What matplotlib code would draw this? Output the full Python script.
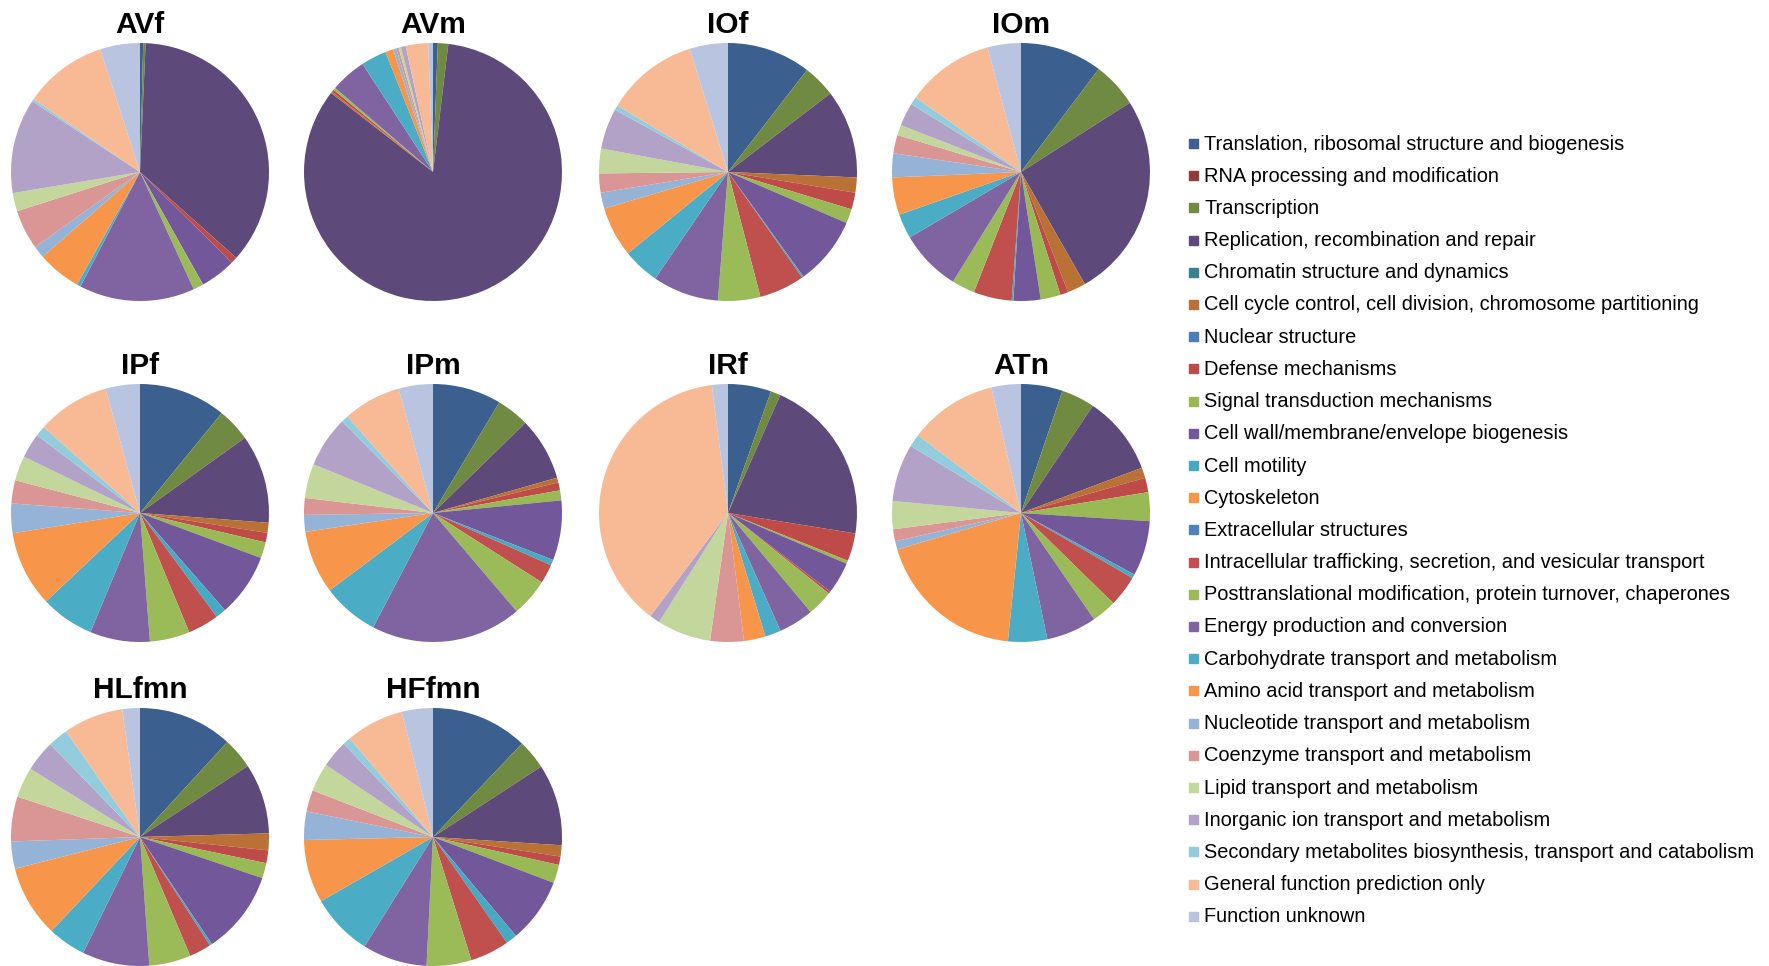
import matplotlib
matplotlib.use("Agg")
import matplotlib.pyplot as plt
from matplotlib.patches import Rectangle

plt.rcParams['font.family'] = ['Liberation Sans', 'DejaVu Sans']

categories = [
    "Translation, ribosomal structure and biogenesis",
    "RNA processing and modification",
    "Transcription",
    "Replication, recombination and repair",
    "Chromatin structure and dynamics",
    "Cell cycle control, cell division, chromosome partitioning",
    "Nuclear structure",
    "Defense mechanisms",
    "Signal transduction mechanisms",
    "Cell wall/membrane/envelope biogenesis",
    "Cell motility",
    "Cytoskeleton",
    "Extracellular structures",
    "Intracellular trafficking, secretion, and vesicular transport",
    "Posttranslational modification, protein turnover, chaperones",
    "Energy production and conversion",
    "Carbohydrate transport and metabolism",
    "Amino acid transport and metabolism",
    "Nucleotide transport and metabolism",
    "Coenzyme transport and metabolism",
    "Lipid transport and metabolism",
    "Inorganic ion transport and metabolism",
    "Secondary metabolites biosynthesis, transport and catabolism",
    "General function prediction only",
    "Function unknown",
]

colors = [
    "#3B5F8E", "#903C3A", "#718A42", "#5E4A7A", "#388195", "#B97135",
    "#4A7EBB", "#BE4B48", "#98B954", "#72589A", "#46AAC5", "#F79646",
    "#4F81BD", "#C0504D", "#9BBB59", "#8064A2", "#4BACC6", "#F7964A",
    "#95B3D7", "#D99694", "#C3D69B", "#B3A2C7", "#93CDDD", "#F8B995",
    "#B9C5E0",
]

# percentages per category, same order as `categories`
AVf = [0.4, 0, 0.3, 36.0, 0, 0, 0, 0.8, 0, 4.5, 0, 0, 0, 0, 1.3, 14.5,
       0.5, 5.5, 1.5, 5.0, 2.3, 11.9, 0.3, 10.5, 5.0]
AVm = [0.6, 0, 1.3, 83.6, 0, 0.2, 0, 0.3, 0, 0, 0, 0, 0, 0, 0.3, 4.5,
       3.2, 1.0, 0.4, 0.3, 0.3, 0.6, 0, 2.8, 0.6]
IOf = [10.5, 0, 4.1, 11.1, 0, 1.9, 0, 2.1, 1.8, 8.6, 0.2, 0, 0, 5.7, 5.3, 8.3,
       4.6, 6.3, 2.0, 2.4, 3.1, 5.1, 0.6, 11.6, 4.8]
IOm = [10.3, 0, 5.7, 25.8, 0, 2.3, 0, 1.0, 2.5, 3.4, 0.2, 0, 0, 4.8, 2.9, 7.7,
       3.1, 4.7, 3.0, 2.3, 1.3, 2.9, 1.0, 11.0, 4.2]
IPf = [10.9, 0, 4.2, 11.1, 0, 1.25, 0, 1.2, 2.0, 7.9, 1.3, 0, 0, 3.9, 5.0, 7.5,
       6.7, 9.5, 3.7, 2.9, 3.1, 3.1, 1.3, 9.1, 4.3]
IPm = [8.6, 0, 4.1, 7.9, 0, 0.6, 0, 1.0, 1.25, 7.5, 0.7, 0, 0, 2.4, 4.75, 18.9,
       7.1, 7.9, 2.1, 2.1, 4.3, 6.4, 0.9, 7.25, 4.3]
IRf = [5.4, 0, 1.25, 20.9, 0, 0, 0, 3.5, 0.4, 4.0, 0, 0, 0, 0.3, 3.2, 4.4,
       2.0, 2.7, 0, 4.2, 6.75, 1.3, 0, 37.75, 2.0]
ATn = [5.2, 0, 4.2, 9.9, 0, 1.3, 0, 1.8, 3.6, 6.9, 0.5, 0, 0, 3.9, 3.1, 6.3,
       4.9, 18.8, 1.05, 1.5, 3.5, 7.2, 1.6, 11.0, 3.7]
HLfmn = [11.8, 0, 3.9, 8.8, 0, 2.1, 0, 1.6, 1.9, 10.4, 0.3, 0, 0, 2.75, 5.2, 8.4,
         4.75, 9.0, 3.4, 5.6, 3.8, 3.9, 2.5, 7.5, 2.2]
HFfmn = [12.1, 0, 3.7, 10.2, 0, 1.4, 0, 1.05, 2.3, 8.1, 1.4, 0, 0, 4.9, 5.6, 8.1,
         7.8, 7.9, 3.55, 2.7, 3.55, 3.4, 1.0, 7.25, 3.9]

samples = ["AVf", "AVm", "IOf", "IOm", "IPf", "IPm", "IRf", "ATn", "HLfmn", "HFfmn"]
values = [AVf, AVm, IOf, IOm, IPf, IPm, IRf, ATn, HLfmn, HFfmn]

W, H = 1769, 966
fig = plt.figure(figsize=(W / 100, H / 100), dpi=100)

# pie centres in pixels (from top-left)
col_x = [140, 433, 728, 1021]
row_y = [172, 513, 837]
r = 129

for i, (name, vals) in enumerate(zip(samples, values)):
    cx = col_x[i % 4]
    cy = row_y[i // 4]
    ax = fig.add_axes([(cx - r) / W, 1 - (cy + r) / H, 2 * r / W, 2 * r / H])
    ax.pie(vals, colors=colors, startangle=90, counterclock=False,
           wedgeprops=dict(linewidth=0))
    ax.set_xlim(-1.0, 1.0)
    ax.set_ylim(-1.0, 1.0)
    ax.set_aspect('equal')
    fig.text(cx / W, 1 - (cy - 147) / H, name, ha='center', va='center',
             fontsize=21.5, fontweight='bold')

# legend
lx, ly0, dy = 1189, 144, 32.2
for i, (cat, c) in enumerate(zip(categories, colors)):
    y = ly0 + i * dy
    fig.patches.append(Rectangle(((lx) / W, 1 - (y + 4) / H), 9 / W, 9 / H,
                                 transform=fig.transFigure, color=c))
    fig.text((lx + 15) / W, 1 - y / H, cat, ha='left', va='center',
             fontsize=14.4)

fig.savefig("out.png", dpi=100, facecolor='white')
